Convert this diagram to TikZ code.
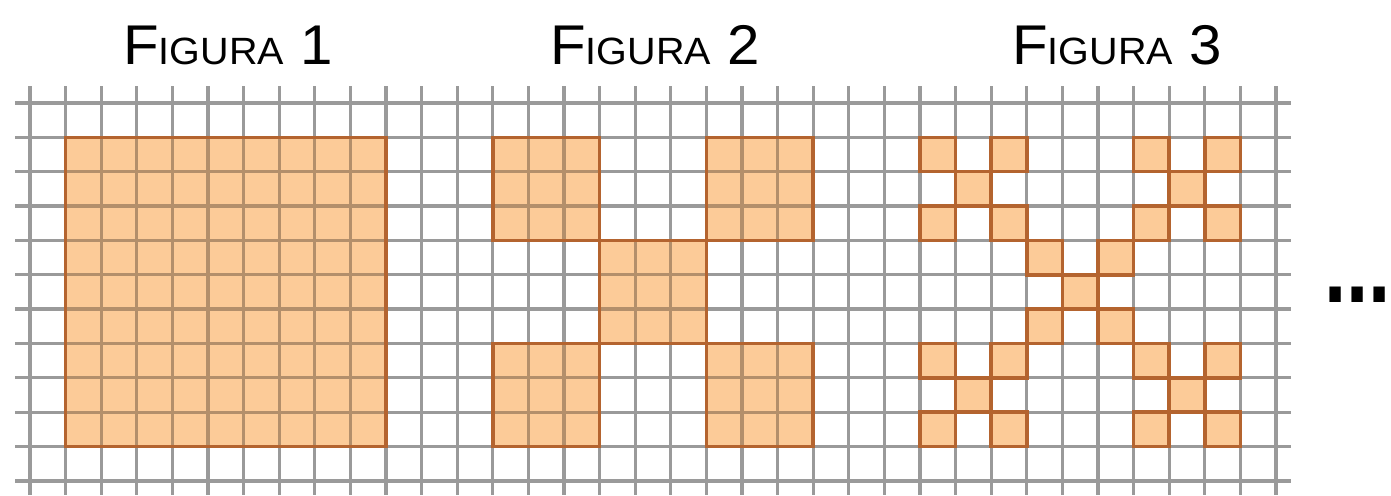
\documentclass[tikz,border=0pt]{standalone}
\usepackage{fontspec}
\setmainfont{Liberation Sans}
\definecolor{fillor}{HTML}{FCCB98}
\definecolor{edgeor}{HTML}{B4642F}
\definecolor{gridgray}{HTML}{9A9A9A}
\definecolor{gridin}{HTML}{B38F6B}
\newcommand\GX[1]{30+35.6*(#1)}
\newcommand\GY[1]{103+34.35*(#1)}
\newcommand\figtitle[1]{\scalebox{1.04}[1]{\fontsize{56}{56}\selectfont F\fontsize{38}{38}\selectfont IGURA\fontsize{56}{56}\selectfont{} #1}}
\def\regionpath{%
  ({\GX{1}},{\GY{1}}) rectangle ({\GX{10}},{\GY{10}})
  foreach \br/\bc in {0/0,0/2,1/1,2/0,2/2}{
    ({\GX{13+3*\bc}},{\GY{1+3*\br}}) rectangle ({\GX{16+3*\bc}},{\GY{4+3*\br}})
  }
  foreach \br/\bc in {0/0,0/2,1/1,2/0,2/2}{
    foreach \r/\c in {0/0,0/2,1/1,2/0,2/2}{
      ({\GX{25+3*\bc+\c}},{\GY{1+3*\br+\r}}) rectangle ({\GX{26+3*\bc+\c}},{\GY{2+3*\br+\r}})
    }
  }}
\begin{document}
\begin{tikzpicture}[x=1pt,y=-1pt,
  gridline/.style={line width=3.3pt},
  edgeline/.style={draw=edgeor,line width=3.5pt,line join=miter},
  figlabel/.style={anchor=base,inner sep=0pt,text=black}]
\useasboundingbox (0,0) rectangle (1391,495);
% fills
\fill[fillor] \regionpath;
% grid
\foreach \k in {0,...,35}{
  \draw[gridline,draw=gridgray] ({\GX{\k}},86) -- ({\GX{\k}},495);
}
\foreach \j in {0,...,11}{
  \draw[gridline,draw=gridgray] (15,{\GY{\j}}) -- (1291,{\GY{\j}});
}
% grid seen through the fill
\begin{scope}
  \clip \regionpath;
  \foreach \k in {0,...,35}{
    \draw[gridline,draw=gridin] ({\GX{\k}},86) -- ({\GX{\k}},495);
  }
  \foreach \j in {0,...,11}{
    \draw[gridline,draw=gridin] (15,{\GY{\j}}) -- (1291,{\GY{\j}});
  }
\end{scope}
% borders
\draw[edgeline] \regionpath;
% titles
\node[figlabel] (t1) at (228,65) {\figtitle{1}};
\node[figlabel] (t2) at (655,65) {\figtitle{2}};
\node[figlabel] (t3) at (1117,65) {\figtitle{3}};
% dots
\node[anchor=base west,inner sep=0pt] (dots) at (1324,302) {\makebox[62pt][l]{\scalebox{1}[1.3]{\fontsize{80}{80}\selectfont\bfseries ...}}};
\end{tikzpicture}
\end{document}
